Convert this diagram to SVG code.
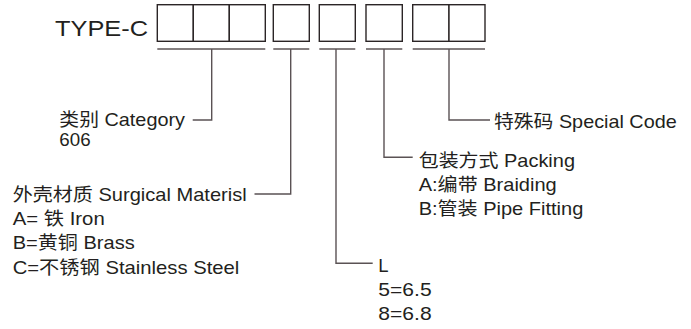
<svg xmlns="http://www.w3.org/2000/svg" width="691" height="329" viewBox="0 0 691 329">
<style>
text{font-family:"Liberation Sans","Noto Sans CJK SC",sans-serif;font-size:18.5px;fill:#231f20}
.box{fill:#fff;stroke:#2b2526;stroke-width:1.4}
.ln{fill:none;stroke:#5a5254;stroke-width:1.4}
.bar{fill:none;stroke:#857f80;stroke-width:1.8}
</style>
<rect width="691" height="329" fill="#fff"/>
<g id="title"><text x="55" y="35.5" style="font-size:22.5px" textLength="93" lengthAdjust="spacingAndGlyphs">TYPE-C</text></g>
<g id="boxes">
<rect class="box" x="157.3" y="4.7" width="36" height="36.6"/>
<rect class="box" x="193.3" y="4.7" width="36" height="36.6"/>
<rect class="box" x="229.3" y="4.7" width="36" height="36.6"/>
<rect class="box" x="273.3" y="4.7" width="36" height="36.6"/>
<rect class="box" x="319.3" y="4.7" width="36" height="36.6"/>
<rect class="box" x="366" y="4.7" width="36.3" height="36.6"/>
<rect class="box" x="412.7" y="4.7" width="36.3" height="36.6"/>
<rect class="box" x="449" y="4.7" width="36" height="36.6"/>
</g>
<g id="connectors">
<path class="bar" d="M157.3 49H265.3M273.3 49H309.3M319.3 49H355.3M366 49H402.3M412.7 49H485"/>
<polyline class="ln" points="211.7,49 211.7,120 192.7,120"/>
<polyline class="ln" points="290.7,49 290.7,194 254.5,194"/>
<polyline class="ln" points="336,49 336,263.3 372.7,263.3"/>
<polyline class="ln" points="384,49 384,157.3 412.7,157.3"/>
<polyline class="ln" points="449,49 449,120 490,120"/>
</g>
<g id="category">
<text x="59.3" y="125.7" textLength="125.7" lengthAdjust="spacingAndGlyphs">类别 Category</text>
<text x="59.3" y="146" textLength="31.3" lengthAdjust="spacingAndGlyphs">606</text>
</g>
<g id="material">
<text x="12.7" y="200.7" textLength="234" lengthAdjust="spacingAndGlyphs">外壳材质 Surgical Materisl</text>
<text x="12.7" y="225" textLength="92" lengthAdjust="spacingAndGlyphs">A= 铁 Iron</text>
<text x="12.7" y="248.5" textLength="122" lengthAdjust="spacingAndGlyphs">B=黄铜 Brass</text>
<text x="12.7" y="273.5" textLength="226.6" lengthAdjust="spacingAndGlyphs">C=不锈钢 Stainless Steel</text>
</g>
<g id="length">
<text x="378.3" y="271.7">L</text>
<text x="378.3" y="296" textLength="53.3" lengthAdjust="spacingAndGlyphs">5=6.5</text>
<text x="378.3" y="320" textLength="53.3" lengthAdjust="spacingAndGlyphs">8=6.8</text>
</g>
<g id="packing">
<text x="418.7" y="167.3" textLength="156.3" lengthAdjust="spacingAndGlyphs">包装方式 Packing</text>
<text x="418.7" y="190.5" textLength="138" lengthAdjust="spacingAndGlyphs">A:编带 Braiding</text>
<text x="418.7" y="215" textLength="164.6" lengthAdjust="spacingAndGlyphs">B:管装 Pipe Fitting</text>
</g>
<g id="special">
<text x="494" y="128.3" textLength="182.7" lengthAdjust="spacingAndGlyphs">特殊码 Special Code</text>
</g>
</svg>
